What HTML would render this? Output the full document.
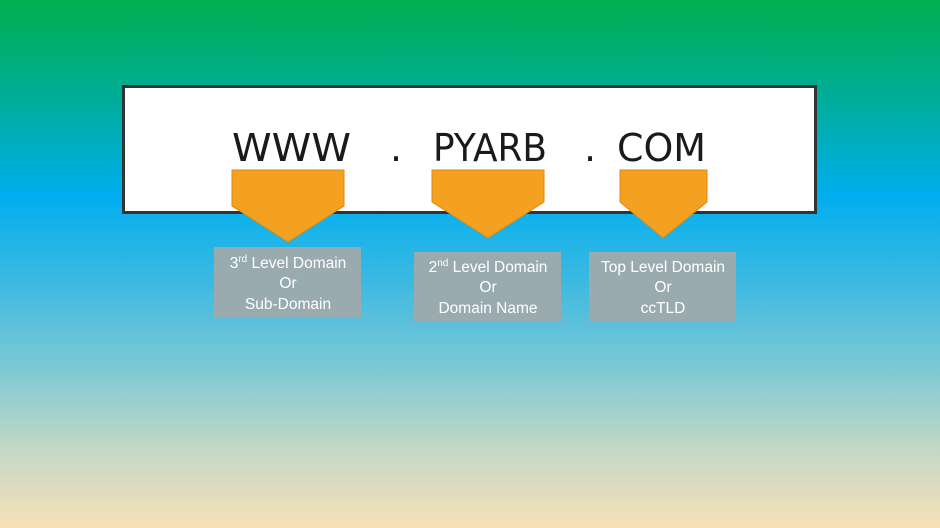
<!DOCTYPE html>
<html><head><meta charset="utf-8"><style>
html,body{margin:0;padding:0;width:940px;height:528px;overflow:hidden}
body{background:linear-gradient(to bottom,#00b04f 0px,#00ad9a 100px,#00aeef 195px,#3bb9e2 280px,#7ec9d4 370px,#c4d8c6 450px,#f8e0b8 528px)}
</style></head><body>
<svg width="940" height="528" xmlns="http://www.w3.org/2000/svg" style="position:absolute;left:0;top:0">
<rect x="123.5" y="86.5" width="692" height="126" fill="#fff" stroke="#333" stroke-width="3"/>
<g font-family="'DejaVu Sans','Liberation Sans',sans-serif" font-size="38" fill="#1a1a1a">
<text x="232" y="161" textLength="119" lengthAdjust="spacingAndGlyphs">WWW</text>
<text x="390" y="161">.</text>
<text x="433" y="161" textLength="114" lengthAdjust="spacingAndGlyphs">PYARB</text>
<text x="584" y="161">.</text>
<text x="617" y="161" textLength="89" lengthAdjust="spacingAndGlyphs">COM</text>
</g>
<g fill="#f4a020" stroke="#e08a10" stroke-width="1">
<polygon points="232,170 344,170 344,206 288,242 232,206"/>
<polygon points="432,170 544,170 544,202 488,238 432,202"/>
<polygon points="620,170 707,170 707,202 663,238 620,202"/>
</g>
<g fill="#9aabb0">
<rect x="214" y="247" width="147" height="71"/>
<rect x="414" y="252" width="147" height="70"/>
<rect x="589" y="252" width="147" height="70"/>
</g>
<g font-family="'Liberation Sans',sans-serif" font-size="15.5" fill="#fff" text-anchor="middle">
<text x="288" y="268">3<tspan font-size="10" dy="-6">rd</tspan><tspan dy="6"> Level Domain</tspan></text>
<text x="288" y="288">Or</text>
<text x="288" y="309">Sub-Domain</text>
<text x="488" y="272">2<tspan font-size="10" dy="-6">nd</tspan><tspan dy="6"> Level Domain</tspan></text>
<text x="488" y="292">Or</text>
<text x="488" y="313">Domain Name</text>
<text x="663" y="272">Top Level Domain</text>
<text x="663" y="292">Or</text>
<text x="663" y="313">ccTLD</text>
</g>
</svg>
</body></html>
